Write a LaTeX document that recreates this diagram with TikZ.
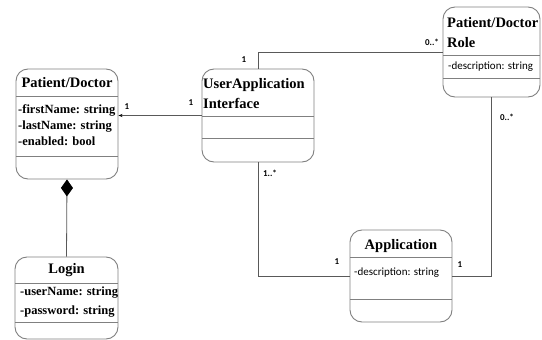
\documentclass[tikz,border=0pt]{standalone}
\usepackage{fontspec}
\setmainfont{Liberation Serif}
\newfontfamily\calibri{Carlito}
\usetikzlibrary{arrows.meta}

\tikzset{
  classbox/.style={draw=black!50, line width=0.9pt, rounded corners=12pt, inner sep=0pt},
  divider/.style={draw=black!50, line width=0.9pt},
  classname/.style={font=\fontsize{14.5}{20}\selectfont\bfseries, inner sep=0pt, align=left},
  attr/.style={font=\fontsize{12.5}{16}\selectfont\bfseries, inner sep=0pt, anchor=west, align=left},
  descr/.style={font=\calibri\fontsize{11}{13}\selectfont, inner sep=0pt, anchor=west},
  mult/.style={font=\calibri\fontsize{9}{10}\selectfont\bfseries, inner sep=0pt},
  assoc/.style={draw=black!65, line width=0.8pt},
}

\begin{document}
\begin{tikzpicture}[x=1pt,y=-1pt]
    \useasboundingbox (0,0) rectangle (542,340);

    % class boxes
    \node[classbox, minimum width=102pt, minimum height=110pt] (pd) at (67,124) {};
    \node[classbox, minimum width=103pt, minimum height=82pt] (login) at (66.5,298) {};
    \node[classbox, minimum width=112pt, minimum height=93pt] (uai) at (258,115.5) {};
    \node[classbox, minimum width=97pt, minimum height=90pt] (role) at (491.5,52) {};
    \node[classbox, minimum width=102pt, minimum height=92pt] (app) at (401,276) {};

    % compartments
    \draw[divider] (16,96) -- (118,96);
    \draw[divider] (16,156) -- (118,156);
    \draw[divider] (15,283) -- (118,283);
    \draw[divider] (15,322) -- (118,322);
    \draw[divider] (202,116) -- (314,116);
    \draw[divider] (202,138) -- (314,138);
    \draw[divider] (443,55) -- (540,55);
    \draw[divider] (443,78) -- (540,78);
    \draw[divider] (350,257) -- (452,257);
    \draw[divider] (350,299) -- (452,299);

    % names and attributes
    \node[classname] (pdname) at (67,82.5) {Patient/Doctor};
    \node[attr] (pdattr) at (18,125) {-firstName: string\\-lastName: string\\-enabled: bool};
    \node[classname] (loginname) at (66.5,270) {Login};
    \node[attr, font=\fontsize{12.5}{19}\selectfont\bfseries] (loginattr) at (20,302.5) {-userName: string\\-password: string};
    \node[classname, anchor=west] (uainame) at (203,94) {UserApplication\\Interface};
    \node[classname, anchor=west] (rolename) at (447,33) {Patient/Doctor\\Role};
    \node[descr] (roledescr) at (448,67) {-description: string};
    \node[classname] (appname) at (401,246) {Application};
    \node[descr] (appdescr) at (354,273) {-description: string};

    % connectors
    \draw[assoc, -{Stealth[length=4pt,width=3pt,black]}] (uai.west) -- (uai.west -| pd.east);
    \draw[assoc, {Diamond[length=17pt,width=12pt,black]}-] (pd.south) -- (login.north);
    \draw[assoc] (uai.north) |- (role.west);
    \draw[assoc] (uai.south) |- (app.west);
    \draw[assoc] (role.south) |- (app.east);

    % multiplicities
    \node[mult] (m1) at (127,107) {1};
    \node[mult] (m2) at (191,103) {1};
    \node[mult] (m3) at (244,60) {1};
    \node[mult] (m4) at (432,42) {0..*};
    \node[mult] (m5) at (507,117) {0..*};
    \node[mult] (m6) at (270,173) {1..*};
    \node[mult] (m7) at (337,262) {1};
    \node[mult] (m8) at (460,265) {1};
\end{tikzpicture}
\end{document}
